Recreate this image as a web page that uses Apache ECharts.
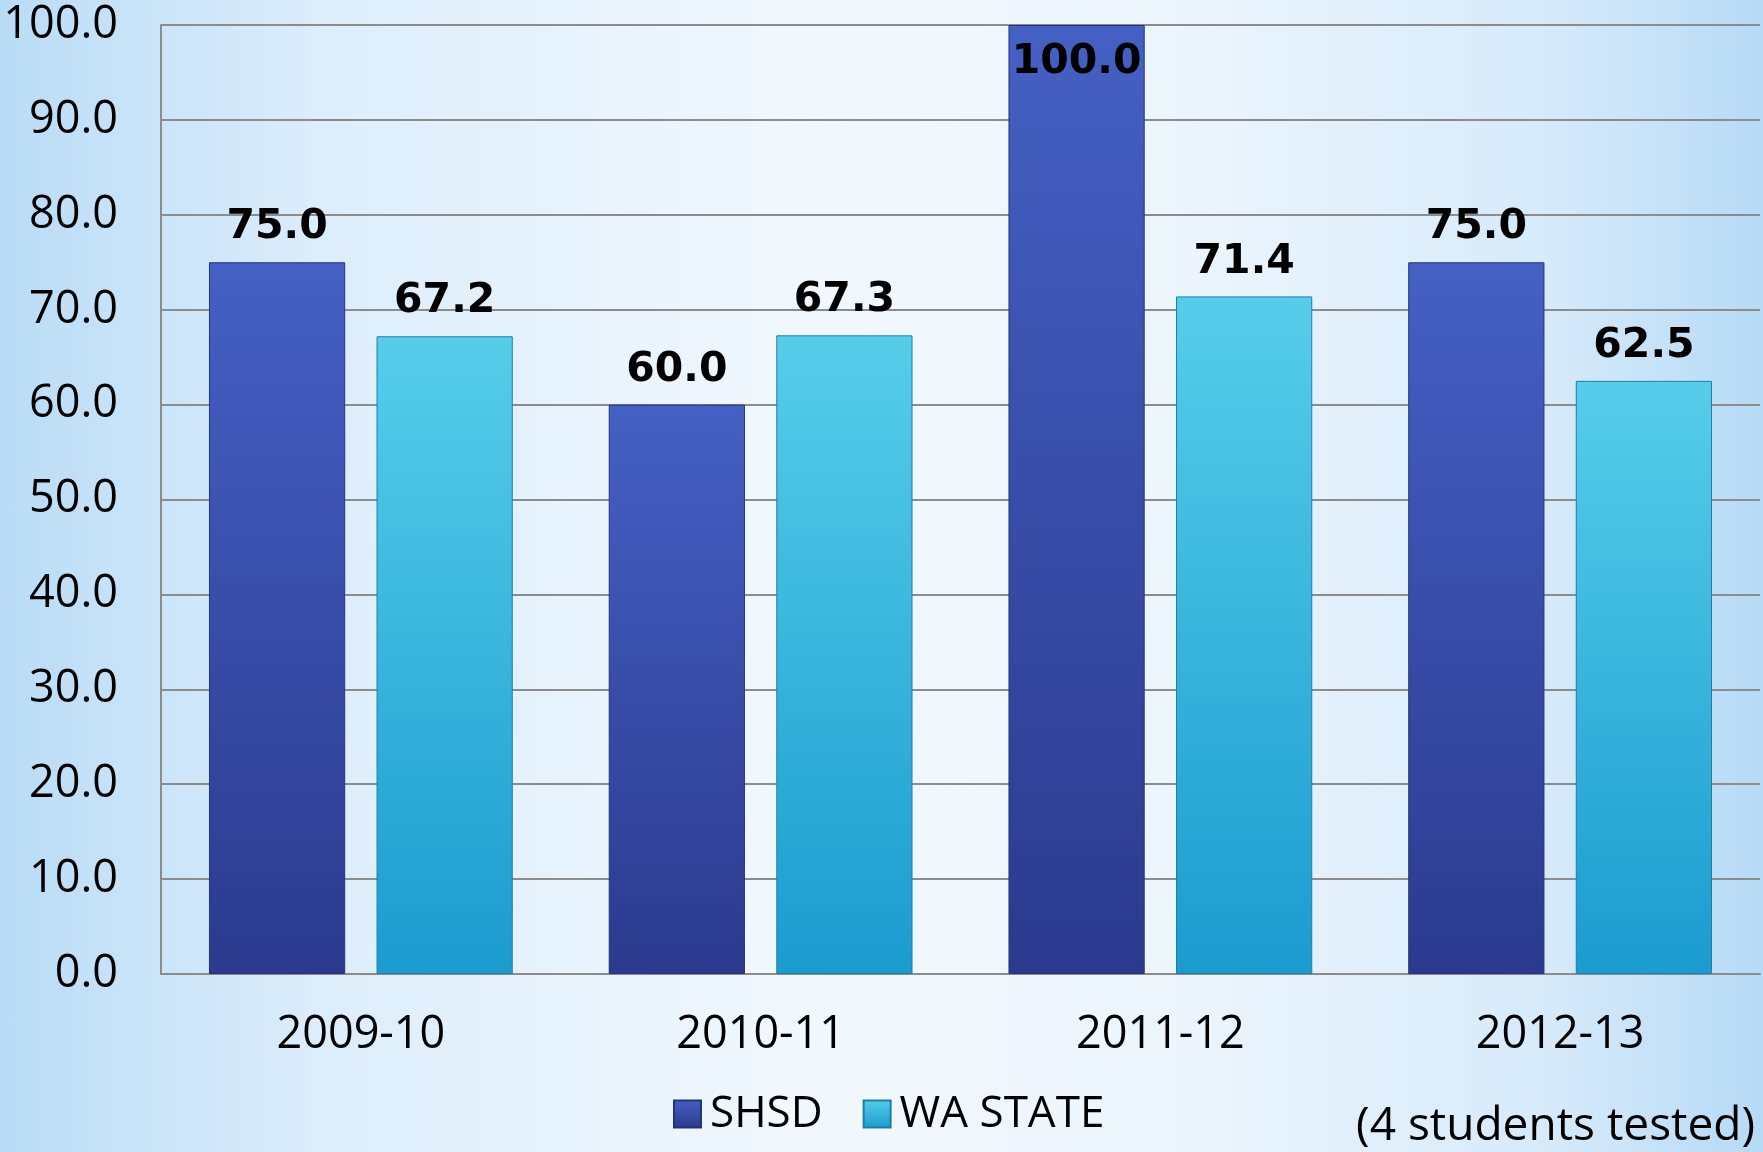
<!DOCTYPE html>
<html>
<head>
<meta charset="utf-8">
<script src="https://cdn.jsdelivr.net/npm/echarts@6/dist/echarts.min.js"></script>
<style>
  html, body { margin: 0; padding: 0; }
  #container {
    width: 1763px; height: 1152px;
    background: linear-gradient(to right, #b9dcf6 0%, #dcedfb 18%, #f1f8fe 45%, #eef6fd 65%, #d6eafa 88%, #b6daf6 100%);
  }
</style>
</head>
<body>
<div id="container"></div>
<script>
var categories = ['2009-10', '2010-11', '2011-12', '2012-13'];
var shsd = [75.0, 60.0, 100.0, 75.0];
var waState = [67.2, 67.3, 71.4, 62.5];
var yTicks = [0, 10, 20, 30, 40, 50, 60, 70, 80, 90, 100];

var labelFont = { fontFamily: 'DejaVu Sans', fontWeight: 'bold', fontSize: 41, color: '#000' };

function plot_echart() {
    var myChart = echarts.init(document.getElementById('container'));

    // top bar (100.0) carries its label inside
    var shsdData = shsd.map(function (v) {
        if (v >= 100) {
            return { value: v, label: { position: 'insideTop', distance: 17 } };
        }
        return v;
    });

    var option = {
        backgroundColor: 'transparent',
        animation: false,
        grid: { left: 161, right: 3, top: 25, bottom: 178 },
        legend: {
            left: 668,
            top: 1087,
            itemWidth: 27,
            itemHeight: 27,
            itemGap: 40,
            icon: 'rect',
            textStyle: { fontFamily: 'Open Sans', fontSize: 44, color: '#000', padding: [0, 0, 0, 4] },
            data: ['SHSD', 'WA STATE']
        },
        xAxis: {
            type: 'category',
            data: categories,
            axisTick: { show: false },
            axisLine: { lineStyle: { color: '#8c8c8c', width: 2 } },
            axisLabel: { fontFamily: 'Open Sans', fontSize: 45, color: '#000', margin: 39 }
        },
        yAxis: {
            type: 'value',
            min: yTicks[0],
            max: yTicks[yTicks.length - 1],
            interval: 10,
            axisLine: { show: true, lineStyle: { color: '#8c8c8c', width: 2 } },
            axisTick: { show: false },
            splitLine: { lineStyle: { color: '#8c8c8c', width: 2 } },
            axisLabel: {
                fontFamily: 'Open Sans', fontSize: 45, color: '#000', margin: 43,
                formatter: function (v) { return v.toFixed(1); }
            }
        },
        series: [{
            name: 'SHSD',
            type: 'bar',
            data: shsdData,
            barGap: '23%',
            barCategoryGap: '24%',
            itemStyle: {
                color: new echarts.graphic.LinearGradient(0, 0, 0, 1, [
                    { offset: 0, color: '#4560c4' },
                    { offset: 1, color: '#2b3a8e' }
                ]),
                borderColor: '#26337a',
                borderWidth: 1
            },
            label: {
                show: true, position: 'top', distance: 14,
                formatter: function (p) { return p.value.toFixed(1); },
                fontFamily: labelFont.fontFamily, fontWeight: labelFont.fontWeight,
                fontSize: labelFont.fontSize, color: labelFont.color
            }
        }, {
            name: 'WA STATE',
            type: 'bar',
            data: waState,
            itemStyle: {
                color: new echarts.graphic.LinearGradient(0, 0, 0, 1, [
                    { offset: 0, color: '#56cdea' },
                    { offset: 1, color: '#1b9ccf' }
                ]),
                borderColor: '#1c7fa8',
                borderWidth: 1
            },
            label: {
                show: true, position: 'top', distance: 14,
                formatter: function (p) { return p.value.toFixed(1); },
                fontFamily: labelFont.fontFamily, fontWeight: labelFont.fontWeight,
                fontSize: labelFont.fontSize, color: labelFont.color
            }
        }],
        graphic: [{
            type: 'text',
            right: 8,
            top: 1104,
            style: { text: '(4 students tested)', fontFamily: 'Open Sans', fontSize: 46, fill: '#000' }
        }]
    };
    myChart.setOption(option);
}
plot_echart();
</script>
</body>
</html>
